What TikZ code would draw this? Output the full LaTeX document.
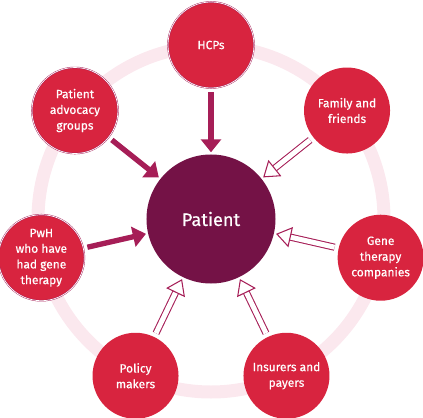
\documentclass[tikz,border=0pt]{standalone}
\usepackage{fontspec}
\setmainfont{Fira Sans}
\newfontfamily\stakefont{Fira Sans}[FakeBold=0.5]
\usepackage{tikz}
\usetikzlibrary{arrows.meta,positioning,backgrounds}
\definecolor{stakeRed}{HTML}{D8243F}
\definecolor{stakePlum}{HTML}{741246}
\definecolor{stakeArrow}{HTML}{A61E57}
\definecolor{stakeRing}{HTML}{FBE8EE}
\tikzset{
  snode/.style={circle,fill=stakeRed,text=white,align=center,minimum size=2.58cm,
    inner sep=0pt,font=\stakefont\fontsize{10.2}{13.4}\selectfont},
  srim/.style={snode,draw=stakeArrow,line width=0.35pt,double=white,double distance=0.6pt},
  spat/.style={circle,fill=stakePlum,text=white,minimum size=3.87cm,inner sep=0pt,
    font=\stakefont\fontsize{15.5}{20}\selectfont},
  sflow/.style={-{Triangle[length=0.39cm,width=0.6cm]},line width=0.16cm,stakeArrow,
    shorten <=0.12cm,shorten >=0.06cm},
  sopen/.style={-{Triangle[open,length=0.45cm,width=0.62cm]},draw=stakeArrow,line width=0.9pt,
    double=white,double distance=0.15cm,shorten <=0.12cm,shorten >=0.06cm},
  sring/.style={draw=stakeRing,line width=0.39cm},
}
\begin{document}
\begin{tikzpicture}[x=0.03cm,y=0.03cm]
\useasboundingbox (-211,-198) rectangle (212,219);
\draw[sring] (0,0) circle (173);
\node[spat] (pat) at (0,0) {Patient};
\node[srim] (hcp) at (90:174) {HCPs};
\node[snode] (fam) at (38.57:174) {Family and\\friends};
\node[snode] (gene) at (-12.86:174) {Gene\\therapy\\companies};
\node[snode] (ins) at (-64.29:174) {Insurers and\\payers};
\node[snode] (pol) at (-115.71:174) {Policy\\makers};
\node[srim] (pwh) at (-167.14:174) {PwH\\who have\\had gene\\therapy};
\node[srim] (adv) at (141.43:174) {Patient\\advocacy\\groups};
\draw[sflow] (hcp) -- (pat);
\draw[sflow] (adv) -- (pat);
\draw[sflow] (pwh) -- (pat);
\draw[sopen] (fam) -- (pat);
\draw[sopen] (gene) -- (pat);
\draw[sopen] (ins) -- (pat);
\draw[sopen] (pol) -- (pat);
\end{tikzpicture}
\end{document}
